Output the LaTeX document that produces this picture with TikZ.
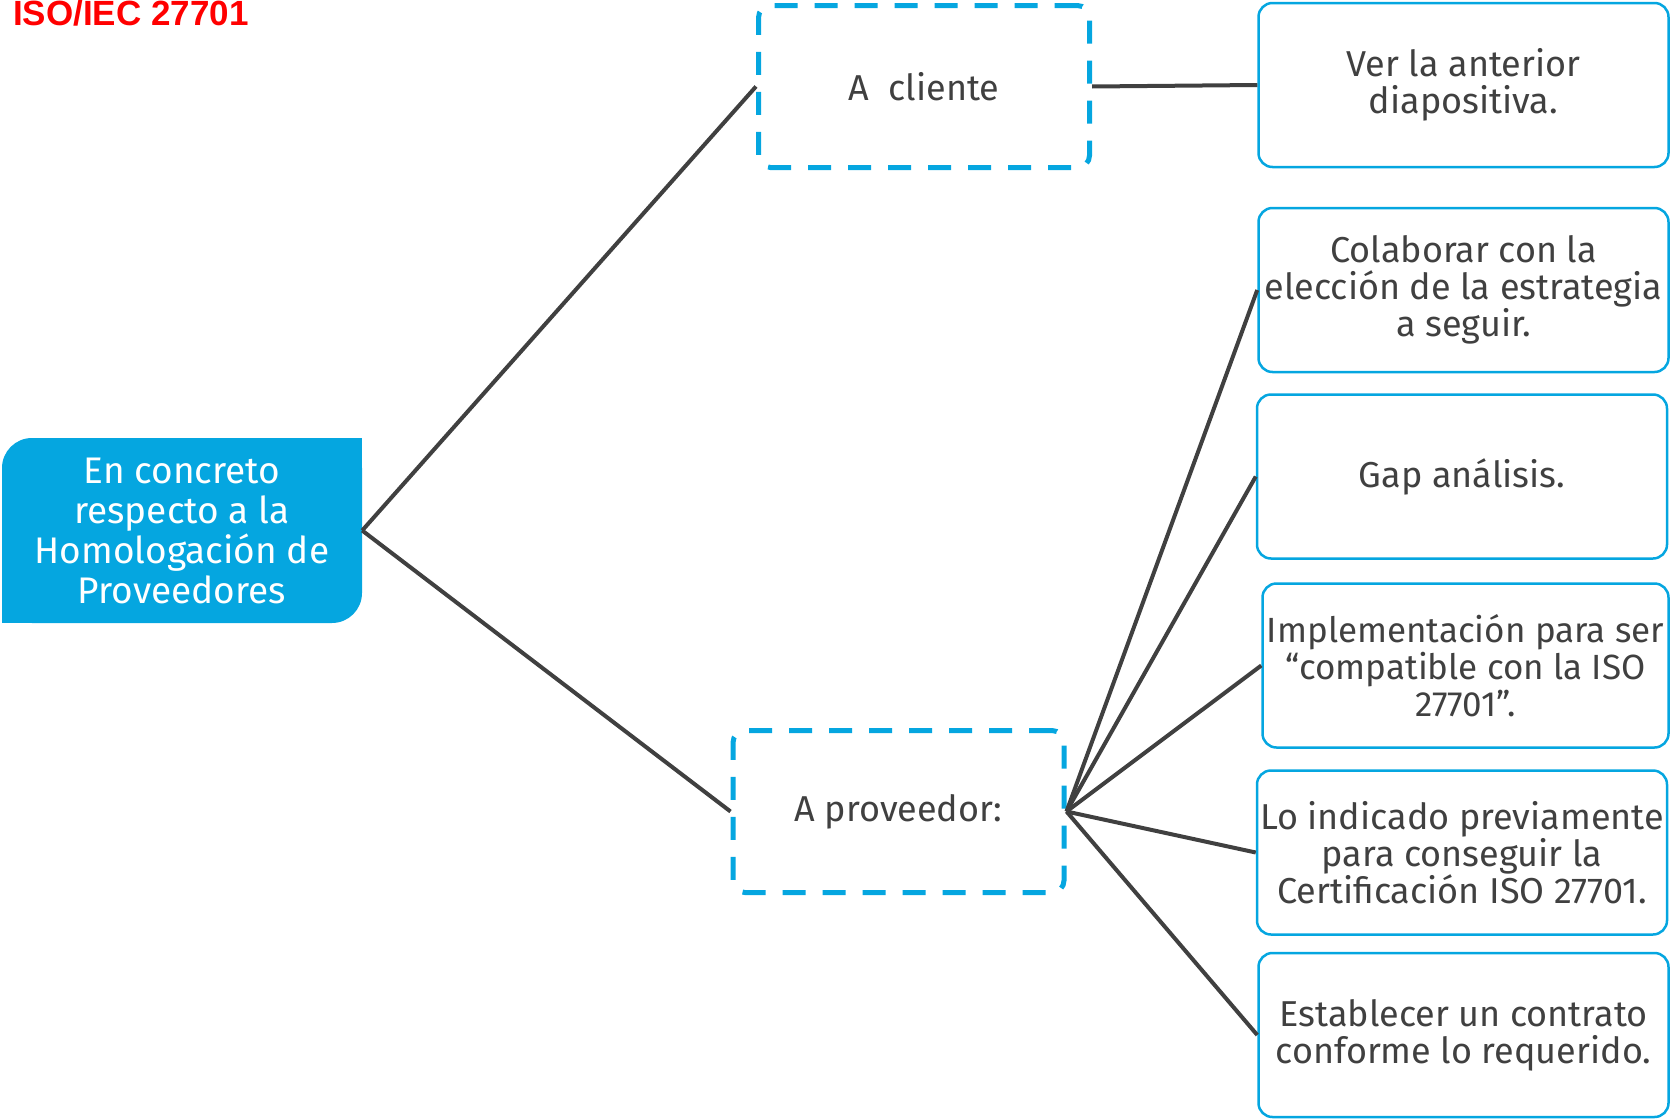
\documentclass[tikz,border=0pt]{standalone}
\usepackage{fontspec}
\setmainfont{Fira Sans}
\newfontfamily\titlefont{Liberation Sans}
\usepackage{xcolor}
\usetikzlibrary{positioning}

\definecolor{isoblue}{RGB}{5,166,224}
\definecolor{inkgray}{RGB}{64,64,64}
\definecolor{isored}{RGB}{255,0,0}

\begin{document}
\begin{tikzpicture}[x=1pt,y=1pt,yscale=-1,xscale=1,
    link/.style={draw=inkgray,line width=4pt},
    notebox/.style={draw=isoblue,line width=2.5pt,rounded corners=14pt,text=inkgray,align=center,
      minimum width=410pt,minimum height=164pt,inner sep=0pt,font=\fontsize{36}{37}\selectfont},
    target/.style={draw=isoblue,line width=5pt,dash pattern=on 23pt off 17pt,rounded corners=12pt,
      text=inkgray,align=center,minimum width=331pt,minimum height=162pt,inner sep=0pt,
      font=\fontsize{36}{37}\selectfont}]
    \useasboundingbox (0,0) rectangle (1671,1119);

    % Title
    \node [anchor=base west,inner sep=0pt,text=isored,font=\titlefont\bfseries\fontsize{35}{35}\selectfont] (title) at (13,25) {ISO/IEC 27701};

    % Main node
    \node [fill=isoblue,rounded corners=30pt,minimum width=360pt,minimum height=185pt,inner sep=0pt,
      text=white,align=center,font=\fontsize{37}{40}\selectfont] (homolog) at (182,530.5)
      {En concreto\\respecto a la\\Homologación de\\Proveedores};
    \fill [isoblue] (homolog.north east) rectangle ++(-34,34);
    \fill [isoblue] (homolog.south west) rectangle ++(34,-34);

    % Dashed nodes
    \node [target] (cliente) at (924,86.5) {A\ \ cliente};
    \node [target] (proveedor) at (898.5,811.5) {A proveedor:};

    % Right column
    \node [notebox] (ver) at (1463.5,85) {Ver la anterior\\diapositiva.};
    \node [notebox] (colab) at (1463.5,290) {Colaborar con la\\elección de la estrategia\\a seguir.};
    \node [notebox] (gap) at (1462,476.5) {Gap análisis.};
    \node [notebox,minimum width=406pt,font=\fontsize{35}{37}\selectfont] (impl) at (1465.5,665.5) {Implementación para ser\\“compatible con la ISO\\27701”.};
    \node [notebox] (indicado) at (1462,852.5) {Lo indicado previamente\\para conseguir la\\Certificación ISO 27701.};
    \node [notebox] (contrato) at (1463.5,1035) {Establecer un contrato\\conforme lo requerido.};

    % Connectors
    \draw [link] (homolog.east) -- (cliente.west);
    \draw [link] (homolog.east) -- (proveedor.west);
    \draw [link] (cliente.east) -- (ver.west);
    \foreach \n in {colab,gap,impl,indicado,contrato}
      \draw [link] (proveedor.east) -- (\n.west);

\end{tikzpicture}
\end{document}
